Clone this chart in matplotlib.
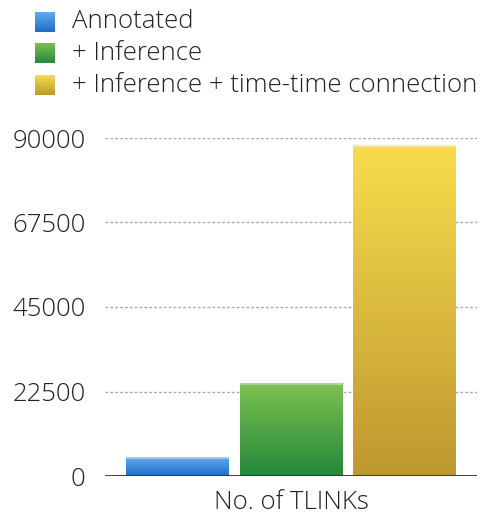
import numpy as np
import matplotlib
matplotlib.use("Agg")
import matplotlib.pyplot as plt
from matplotlib.colors import LinearSegmentedColormap
from matplotlib import font_manager

# Data
series = ["Annotated", "+ Inference", "+ Inference + time-time connection"]
values = [4900, 24600, 87900]
category = "No. of TLINKs"
yticks = [0, 22500, 45000, 67500, 90000]

# Gradient colours (top, bottom) per series
grad_colors = [("#5eaef2", "#1f6cc4"),
               ("#7dc152", "#25883a"),
               ("#f8dc4c", "#bd982f")]

names = {f.name for f in font_manager.fontManager.ttflist}
family = "Open Sans" if "Open Sans" in names else "DejaVu Sans"
weight = "light"
fs = 18.5

fig = plt.figure(figsize=(4.83, 5.20), dpi=100)
W, H = 483, 520
ax = fig.add_axes([105 / W, 44 / H, (477 - 105) / W, (476 - 138) / H])

n = len(values)
bar_w = 0.906
xs = np.arange(n)
ax.set_xlim(-0.638, n - 1 + 0.638)
ax.set_ylim(0, 90000)

grad = np.linspace(1, 0, 256).reshape(-1, 1)
for x, v, (ct, cb) in zip(xs, values, grad_colors):
    cmap = LinearSegmentedColormap.from_list("g", [cb, ct])
    ax.imshow(grad, extent=(x - bar_w / 2, x + bar_w / 2, 0, v), cmap=cmap,
              aspect="auto", origin="upper", zorder=3, interpolation="bilinear")
    # thin lighter rim at the top edge
    ax.plot([x - bar_w / 2, x + bar_w / 2], [v, v], color="white", alpha=0.45,
            lw=1.2, zorder=4, solid_capstyle="butt")

for t in yticks[1:]:
    ax.axhline(t, color="#aaaaaa", lw=1.0, ls=(0, (2, 1.5)), zorder=1)
ax.axhline(0, color="#333333", lw=1.3, zorder=5)

for s in ax.spines.values():
    s.set_visible(False)
ax.set_yticks(yticks)
ax.set_yticklabels([str(t) for t in yticks], fontsize=fs, family=family,
                   weight=weight, color="#222222")
ax.tick_params(axis="y", length=0, pad=14)
ax.set_xticks([])
ax.set_xlabel(category, fontsize=fs, family=family, weight=weight,
              color="#222222", labelpad=10)

# Legend with gradient swatches
rows_y = [22, 53, 85]
for yc, name, (ct, cb) in zip(rows_y, series, grad_colors):
    sax = fig.add_axes([35 / W, 1 - (yc + 10) / H, 20 / W, 20 / H])
    cmap = LinearSegmentedColormap.from_list("g", [cb, ct])
    sax.imshow(grad, cmap=cmap, aspect="auto", interpolation="bilinear")
    sax.axis("off")
    fig.text(72 / W, 1 - yc / H, name, fontsize=fs, family=family,
             weight=weight, color="#222222", va="center", ha="left")

fig.savefig("out.png", dpi=100)
